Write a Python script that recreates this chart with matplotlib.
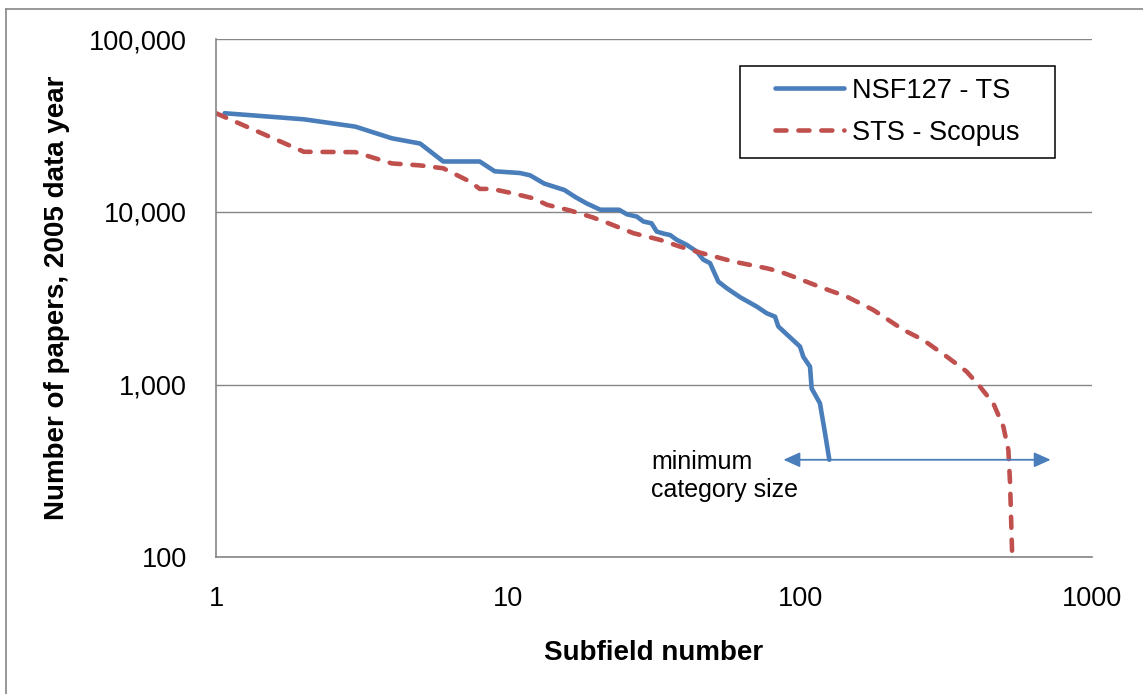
import matplotlib
matplotlib.use('Agg')
import matplotlib.pyplot as plt
from matplotlib.lines import Line2D
from matplotlib.patches import Rectangle
from matplotlib.ticker import FixedLocator, NullLocator

plt.rcParams['font.family'] = ['Liberation Sans', 'DejaVu Sans']

# NSF127 - TS (rank vs papers)
nsf_rank = [1.07, 2, 3, 4, 5, 6, 8, 9, 11, 11.9, 13.3, 15.6, 17, 18.6, 20.7, 24,
            25.5, 27.6, 29.1, 31, 32.3, 34, 35.9, 37.8, 40.9, 44.3, 46.6, 49.2,
            52.5, 56.1, 62.3, 71.1, 76.9, 82.1, 84.3, 100, 102.6, 108.2, 109.6,
            117, 121.8, 126]
nsf_papers = [37300, 34400, 31200, 26700, 24900, 19600, 19600, 17200, 16800,
              16300, 14600, 13400, 12200, 11200, 10300, 10300, 9700, 9400, 8800,
              8600, 7700, 7500, 7350, 6900, 6450, 5900, 5300, 5050, 3950, 3620,
              3210, 2830, 2590, 2475, 2170, 1660, 1450, 1270, 950, 780, 523, 367]

# STS - Scopus
sts_rank = [1, 2, 3, 4, 5, 6, 7.4, 8, 8.8, 10.2, 12.2, 13.6, 16.3, 19.5, 21.7,
            26.9, 33.2, 38.8, 45.5, 59.1, 76.9, 85.4, 94.9, 120, 144.5, 178, 226,
            264, 318, 372, 413, 459, 497, 517, 524, 533]
sts_papers = [37300, 22300, 22200, 19100, 18600, 17900, 15000, 13600, 13600,
              12900, 12000, 11000, 10200, 9300, 8700, 7530, 6890, 6300, 5810,
              5160, 4720, 4510, 4220, 3620, 3235, 2710, 2075, 1815, 1453, 1190,
              974, 780, 571, 419, 268, 100]

x_ticks = [1, 10, 100, 1000]
x_labels = ['1', '10', '100', '1000']
y_ticks = [100, 1000, 10000, 100000]
y_labels = ['100', '1,000', '10,000', '100,000']

# minimum category size marker
min_size = 367
min_arrow_x = (87.7, 722)

blue = '#4A7EBB'
red = '#C0504D'
grey = '#868686'

fig = plt.figure(figsize=(11.43, 6.94), dpi=100)
ax = fig.add_axes([0.189, 0.197, 0.7664, 0.7464])

ax.plot(nsf_rank, nsf_papers, color=blue, lw=3.3, solid_capstyle='round',
        solid_joinstyle='round', label='NSF127 - TS')
ax.plot(sts_rank, sts_papers, color=red, lw=3.3, linestyle=(0, (2.4, 2.6)),
        dash_capstyle='round', dash_joinstyle='round', label='STS - Scopus')

ax.set_xscale('log')
ax.set_yscale('log')
ax.set_xlim(1, 1000)
ax.set_ylim(100, 100000)
ax.xaxis.set_major_locator(FixedLocator(x_ticks))
ax.xaxis.set_minor_locator(NullLocator())
ax.yaxis.set_major_locator(FixedLocator(y_ticks))
ax.yaxis.set_minor_locator(NullLocator())
ax.set_xticklabels(x_labels)
ax.set_yticklabels(y_labels)
ax.tick_params(axis='both', length=0, labelsize=19.5, pad=21)

ax.grid(axis='y', color=grey, lw=1.0)
ax.set_axisbelow(True)
for s in ['top', 'right']:
    ax.spines[s].set_visible(False)
for s in ['left', 'bottom']:
    ax.spines[s].set_color(grey)
    ax.spines[s].set_linewidth(1.2)

ax.set_xlabel('Subfield number', fontsize=20, fontweight='bold')
ax.set_ylabel('Number of papers, 2005 data year', fontsize=20, fontweight='bold')
ax.xaxis.set_label_coords(0.5, -0.16)
ax.yaxis.set_label_coords(-0.167, 0.5)

# legend box
ax.add_patch(Rectangle((0.598, 0.771), 0.3596, 0.1776, transform=ax.transAxes,
                       fill=False, edgecolor='black', lw=1.1, zorder=5))
ax.legend(loc='center', bbox_to_anchor=(0.778, 0.860), frameon=False,
          fontsize=19.5, handlelength=2.55, handletextpad=0.3, labelspacing=0.6,
          borderpad=0)

# minimum category size annotation
ax.annotate('', xy=(min_arrow_x[0], min_size), xytext=(min_arrow_x[1], min_size),
            arrowprops=dict(arrowstyle='<|-|>,head_length=1.0,head_width=0.45',
                            color=blue, lw=1.3, shrinkA=0, shrinkB=0))
ax.text(0.497, 0.208, 'minimum\ncategory size', transform=ax.transAxes,
        fontsize=18, ha='left', va='top', linespacing=1.25)

# outer chart border (left/top visible)
fig.add_artist(Line2D([0.00525, 0.00525], [0, 0.9866], color=grey, lw=1.2,
                      transform=fig.transFigure))
fig.add_artist(Line2D([0.00525, 1], [0.9866, 0.9866], color=grey, lw=1.2,
                      transform=fig.transFigure))

fig.savefig('out.png', dpi=100)
